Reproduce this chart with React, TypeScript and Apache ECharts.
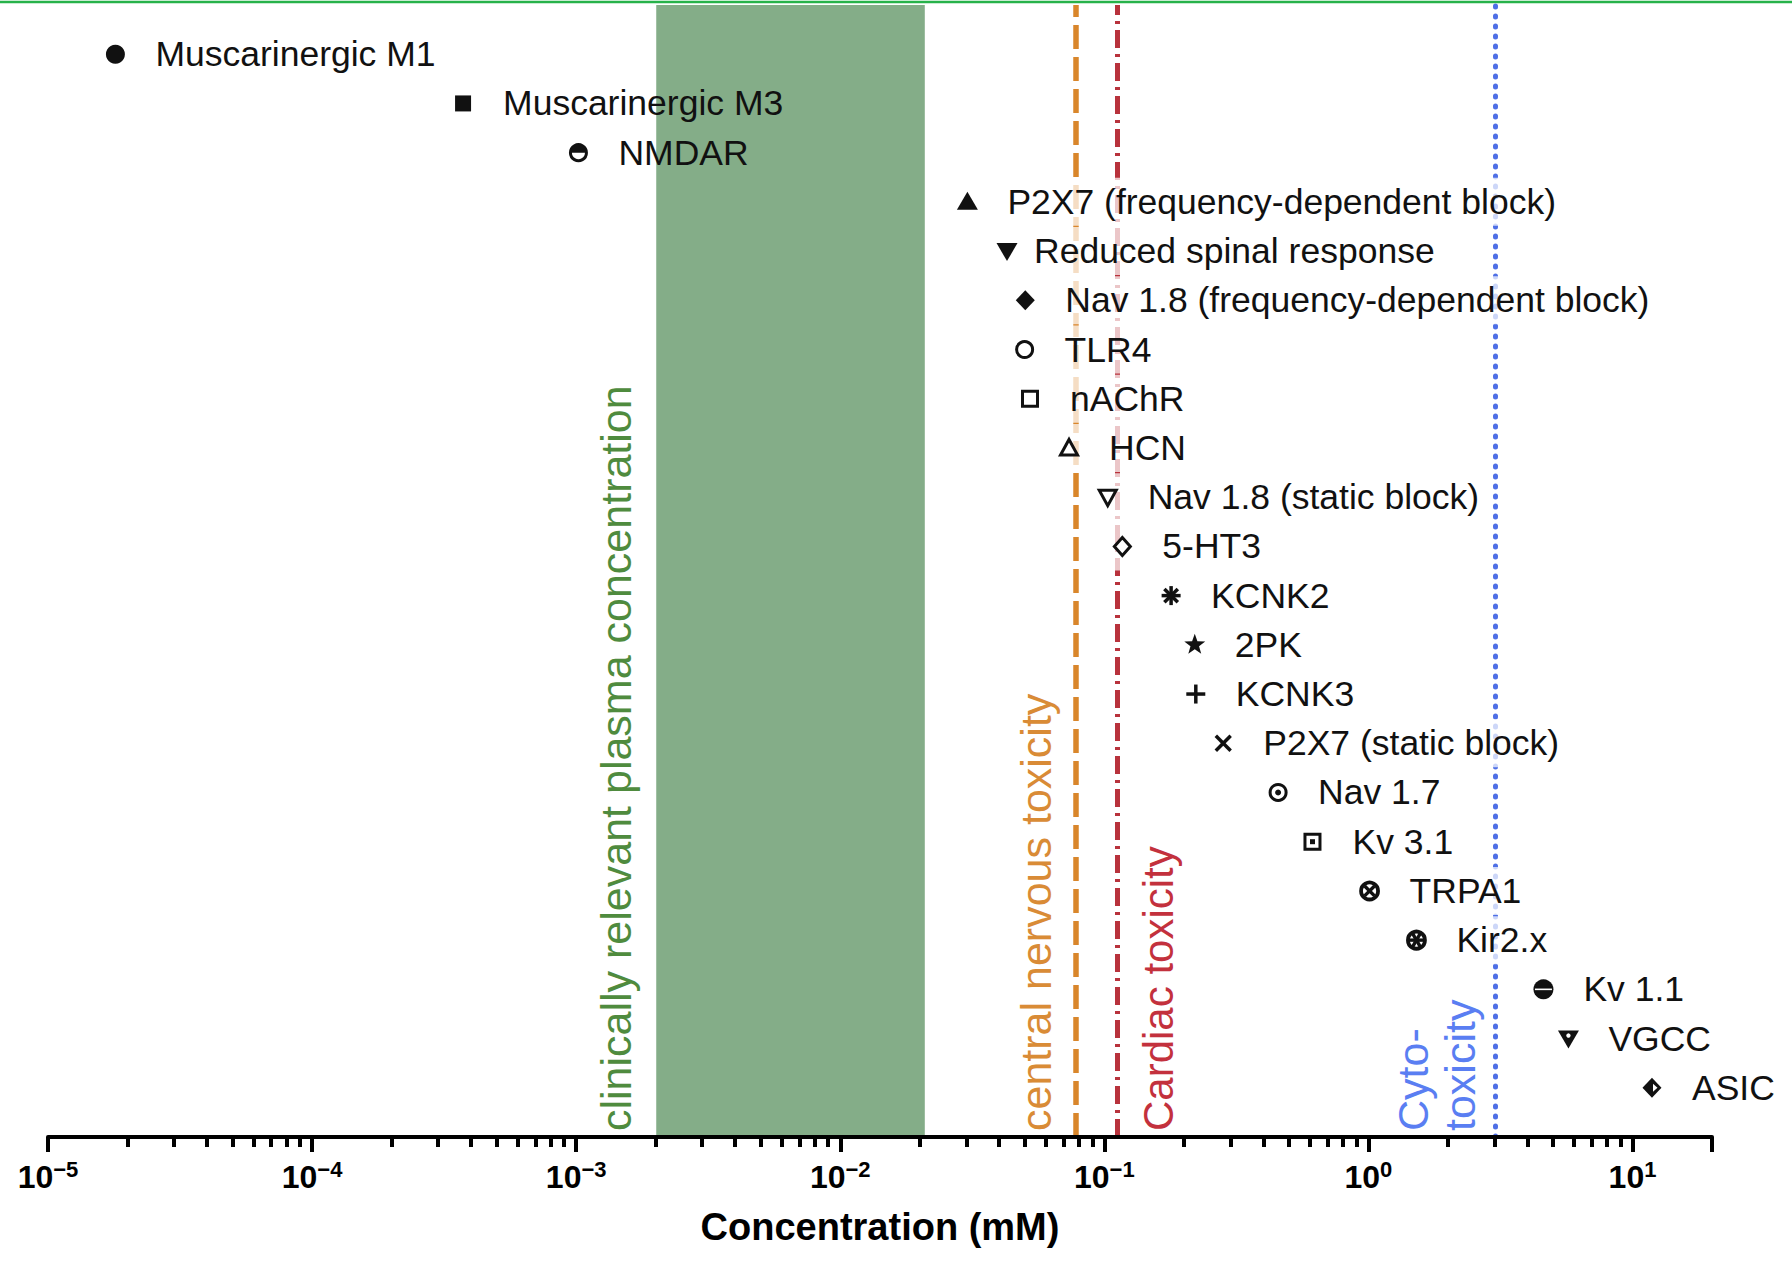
import React, { useEffect, useRef } from "react";
import * as echarts from "echarts";

// ---------- data ----------
const targets = [
  "Muscarinergic M1",
  "Muscarinergic M3",
  "NMDAR",
  "P2X7 (frequency-dependent block)",
  "Reduced spinal response",
  "Nav 1.8 (frequency-dependent block)",
  "TLR4",
  "nAChR",
  "HCN",
  "Nav 1.8 (static block)",
  "5-HT3",
  "KCNK2",
  "2PK",
  "KCNK3",
  "P2X7 (static block)",
  "Nav 1.7",
  "Kv 3.1",
  "TRPA1",
  "Kir2.x",
  "Kv 1.1",
  "VGCC",
  "ASIC",
];
// half-maximal concentrations in mM
const concentrations = [
  1.8e-5, 3.73e-4, 1.02e-3, 0.0303, 0.0428, 0.0502, 0.0499, 0.0523, 0.0735,
  0.103, 0.117, 0.179, 0.22, 0.222, 0.282, 0.455, 0.614, 1.01, 1.52, 4.6, 5.72,
  11.85,
];
const plasmaRange = [0.00201, 0.0209];
const cnsToxicity = 0.0772;
const cardiacToxicity = 0.1127;
const cytotoxicity = 3.02;
const axisMinExp = -5;
const axisMaxValue = 20;
const decadeExps = [-5, -4, -3, -2, -1, 0, 1];
const minorMultipliers = [2, 3, 4, 5, 6, 7, 8, 9];

// ---------- styles ----------
const markerShapes = [
  "circle", "square", "halfCircle", "triUp", "triDown", "diamond",
  "circleOpen", "squareOpen", "triUpOpen", "triDownOpen", "diamondOpen",
  "asterisk", "star", "plus", "cross", "circleDot", "squareDot",
  "circleCross", "circleStar", "circleLine", "triDownDot", "diamondNotch",
];
const labelGaps = targets.map((t) => (t === "Reduced spinal response" ? 27 : 40));

const FONT = '"Liberation Sans", Arial, Helvetica, sans-serif';
const LABEL_SIZE = 35.5;
const INK = "#111";

const L = (v: number) => Math.log10(v);

let measureCtx: CanvasRenderingContext2D | null = null;
function textWidth(t: string): number {
  if (!measureCtx) measureCtx = document.createElement("canvas").getContext("2d");
  if (!measureCtx) return t.length * LABEL_SIZE * 0.5;
  measureCtx.font = `${LABEL_SIZE}px ${FONT}`;
  return measureCtx.measureText(t).width;
}

function markerEls(kind: string, x: number, y: number): any[] {
  const circle = (r: number, fill: string, stroke?: string, lw = 0, cx = x, cy = y) => ({
    type: "circle",
    shape: { cx, cy, r },
    style: { fill, stroke: stroke || null, lineWidth: lw },
  });
  const poly = (pts: number[][], fill: string, stroke?: string, lw = 0) => ({
    type: "polygon",
    shape: { points: pts },
    style: { fill, stroke: stroke || null, lineWidth: lw, lineJoin: "miter" },
  });
  const line = (x1: number, y1: number, x2: number, y2: number, lw: number, stroke = INK) => ({
    type: "line",
    shape: { x1, y1, x2, y2 },
    style: { stroke, lineWidth: lw },
  });
  const rect = (w: number, h: number, fill: string, stroke?: string, lw = 0) => ({
    type: "rect",
    shape: { x: x - w / 2, y: y - h / 2, width: w, height: h },
    style: { fill, stroke: stroke || null, lineWidth: lw },
  });
  const ray = (len: number, deg: number, lw: number, stroke = INK) => {
    const a = (deg * Math.PI) / 180;
    const dx = Math.cos(a) * len;
    const dy = Math.sin(a) * len;
    return line(x - dx, y - dy, x + dx, y + dy, lw, stroke);
  };
  switch (kind) {
    case "circle":
      return [circle(9.5, INK)];
    case "square":
      return [rect(16, 16, INK)];
    case "halfCircle":
      return [
        circle(8, "#fff", INK, 3),
        {
          type: "sector",
          shape: { cx: x, cy: y, r0: 0, r: 8, startAngle: Math.PI, endAngle: Math.PI * 2, clockwise: true },
          style: { fill: INK },
        },
      ];
    case "triUp":
      return [poly([[x, y - 10], [x + 10.5, y + 8], [x - 10.5, y + 8]], INK)];
    case "triDown":
      return [poly([[x - 10.5, y - 8], [x + 10.5, y - 8], [x, y + 10]], INK)];
    case "diamond":
      return [poly([[x, y - 10], [x + 9.5, y], [x, y + 10], [x - 9.5, y]], INK)];
    case "circleOpen":
      return [circle(8, "#fff", INK, 3)];
    case "squareOpen":
      return [rect(15, 15, "#fff", INK, 3)];
    case "triUpOpen":
      return [poly([[x, y - 8.5], [x + 8.5, y + 7], [x - 8.5, y + 7]], "#fff", INK, 3)];
    case "triDownOpen":
      return [poly([[x - 8.5, y - 7], [x + 8.5, y - 7], [x, y + 8.5]], "#fff", INK, 3)];
    case "diamondOpen":
      return [poly([[x, y - 9], [x + 8, y], [x, y + 9], [x - 8, y]], "#fff", INK, 3)];
    case "asterisk":
      return [ray(9.5, 0, 3.5), ray(9.5, 45, 3.5), ray(9.5, 90, 3.5), ray(9.5, 135, 3.5)];
    case "star": {
      const pts: number[][] = [];
      for (let k = 0; k < 10; k++) {
        const r = k % 2 === 0 ? 11 : 4.5;
        const a = -Math.PI / 2 + (k * Math.PI) / 5;
        pts.push([x + Math.cos(a) * r, y + Math.sin(a) * r]);
      }
      return [poly(pts, INK)];
    }
    case "plus":
      return [ray(9.5, 0, 3.5), ray(9.5, 90, 3.5)];
    case "cross":
      return [ray(10.5, 45, 3.5), ray(10.5, 135, 3.5)];
    case "circleDot":
      return [circle(8, "#fff", INK, 3), circle(3, INK)];
    case "squareDot":
      return [rect(15, 15, "#fff", INK, 3), rect(5, 5, INK)];
    case "circleCross":
      return [circle(8.5, "#fff", INK, 3.8), ray(7, 45, 3.4), ray(7, 135, 3.4)];
    case "circleStar":
      return [circle(8.5, "#fff", INK, 3.8), ray(7.5, 0, 3.4), ray(7.5, 60, 3.4), ray(7.5, 120, 3.4)];
    case "circleLine":
      return [circle(10, INK), ray(8.5, 0, 1.6, "#fff")];
    case "triDownDot":
      return [poly([[x - 10.5, y - 8], [x + 10.5, y - 8], [x, y + 10]], INK), circle(2.2, "#fff", undefined, 0, x, y - 3)];
    case "diamondNotch":
      return [
        poly([[x, y - 10], [x + 9.5, y], [x, y + 10], [x - 9.5, y]], INK),
        poly([[x + 1, y - 4], [x + 5.5, y], [x + 1, y + 4]], "#fff"),
      ];
    default:
      return [circle(9, INK)];
  }
}

const rows = targets.map((_, i) => targets.length - i);
const xMin = axisMinExp;
const xMax = L(axisMaxValue);
const minorTickLogs: number[] = [];
decadeExps.forEach((e) =>
  minorMultipliers.forEach((m) => {
    const v = m * Math.pow(10, e);
    if (v < axisMaxValue) minorTickLogs.push(L(v));
  })
);

const gridRect = { left: 48, right: 80, top: 5, bottom: 124 };
const pointData = concentrations.map((c, i) => [L(c), rows[i]]);

function buildOption(): any {
  return {
    animation: false,
    backgroundColor: "#ffffff",
    grid: [
      { ...gridRect, containLabel: false },
      { ...gridRect, containLabel: false },
    ],
    xAxis: [
      {
        type: "value",
        gridIndex: 0,
        min: xMin,
        max: xMax,
        position: "bottom",
        z: 20,
        splitLine: { show: false },
        axisLine: { show: true, onZero: false, lineStyle: { color: "#000", width: 4 } },
        axisTick: {
          show: true,
          length: 15,
          lineStyle: { color: "#000", width: 4 },
          customValues: [...decadeExps, xMax],
        },
        axisLabel: {
          customValues: decadeExps,
          margin: 21,
          formatter: (v: number) => {
            const e = Math.round(v);
            const s = e < 0 ? "\u2212" + -e : String(e);
            return `{b|10}{s|${s}}`;
          },
          rich: {
            b: { fontSize: 32, fontWeight: "bold", fontFamily: FONT, color: "#000", verticalAlign: "bottom" },
            s: {
              fontSize: 22,
              fontWeight: "bold",
              fontFamily: FONT,
              color: "#000",
              verticalAlign: "bottom",
              padding: [0, 0, 13, 0],
            },
          },
        },
        name: "Concentration (mM)",
        nameLocation: "middle",
        nameGap: 71,
        nameTextStyle: { fontSize: 38, fontWeight: "bold", fontFamily: FONT, color: "#000" },
      },
      {
        type: "value",
        gridIndex: 1,
        min: xMin,
        max: xMax,
        position: "bottom",
        z: 20,
        splitLine: { show: false },
        axisLine: { show: false, onZero: false },
        axisTick: {
          show: true,
          length: 10,
          lineStyle: { color: "#000", width: 4 },
          customValues: minorTickLogs,
        },
        axisLabel: { show: false },
      },
    ],
    yAxis: [
      { type: "value", gridIndex: 0, min: 0, max: 23, show: false },
      { type: "value", gridIndex: 1, min: 0, max: 23, show: false },
    ],
    series: [
      {
        // toxicity threshold lines
        type: "line",
        xAxisIndex: 0,
        yAxisIndex: 0,
        data: [],
        z: 1,
        silent: true,
        markLine: {
          silent: true,
          z: 1,
          symbol: ["none", "none"],
          label: { show: false },
          data: [
            { xAxis: L(cnsToxicity), lineStyle: { color: "#d9862b", width: 5.5, type: [24, 8] } },
            { xAxis: L(cardiacToxicity), lineStyle: { color: "#b8323c", width: 5, type: [18, 6, 3, 6] } },
            { xAxis: L(cytotoxicity), lineStyle: { color: "#4e6fe6", width: 5, type: [1, 9], cap: "round" } },
          ],
        },
      },
      {
        // translucent label backdrops (fade the threshold lines under labels)
        type: "custom",
        xAxisIndex: 0,
        yAxisIndex: 0,
        z: 2,
        silent: true,
        clip: false,
        data: pointData,
        renderItem: (params: any, api: any) => {
          const i = params.dataIndex;
          const p = api.coord([api.value(0), api.value(1)]);
          const w = labelGaps[i] + textWidth(targets[i]) + 16 + 10;
          return {
            type: "rect",
            shape: { x: p[0] - 16, y: p[1] - 24, width: w, height: 48 },
            style: { fill: "rgba(255,255,255,0.72)" },
          };
        },
      },
      {
        // clinically relevant plasma concentration band
        type: "line",
        xAxisIndex: 0,
        yAxisIndex: 0,
        data: [],
        z: 3,
        silent: true,
        markArea: {
          silent: true,
          z: 3,
          itemStyle: { color: "#84ad88" },
          label: { show: false },
          data: [[{ xAxis: L(plasmaRange[0]) }, { xAxis: L(plasmaRange[1]) }]],
        },
      },
      {
        type: "custom",
        xAxisIndex: 0,
        yAxisIndex: 0,
        z: 10,
        clip: false,
        data: pointData,
        renderItem: (params: any, api: any) => {
          const i = params.dataIndex;
          const p = api.coord([api.value(0), api.value(1)]);
          const children = markerEls(markerShapes[i], p[0], p[1]);
          children.push({
            type: "text",
            x: p[0] + labelGaps[i],
            y: p[1],
            style: {
              text: targets[i],
              fill: INK,
              fontSize: LABEL_SIZE,
              fontFamily: FONT,
              align: "left",
              verticalAlign: "middle",
            },
          });
          return { type: "group", children };
        },
      },
    ],
  };
}

export default function App() {
  const ref = useRef<HTMLDivElement>(null);
  useEffect(() => {
    document.body.style.margin = "0";
    if (!ref.current) return;
    const chart = echarts.init(ref.current, null, { renderer: "svg" });
    chart.setOption(buildOption());

    const px = (v: number) => chart.convertToPixel({ gridIndex: 0 }, [L(v), 0]) as number[];
    const base = px(plasmaRange[0]);
    const yStart = base[1] - 6;
    const vText = (text: string, x: number, color: string, size = 43) => ({
      type: "text",
      x,
      y: yStart,
      rotation: Math.PI / 2,
      z: 5,
      style: { text, fill: color, fontSize: size, fontFamily: FONT, align: "left", verticalAlign: "middle" },
    });
    chart.setOption({
      graphic: [
        {
          type: "line",
          shape: { x1: 0, y1: 2, x2: 1792, y2: 2 },
          style: { stroke: "#27b24a", lineWidth: 2.5 },
        },
        vText("clinically relevant plasma concentration", base[0] - 40, "#4f8b3e"),
        vText("central nervous toxicity", px(cnsToxicity)[0] - 39, "#d98b36"),
        vText("Cardiac toxicity", px(cardiacToxicity)[0] + 40, "#c3313d", 42),
        vText("Cyto-", px(cytotoxicity)[0] - 82, "#5a7ef2"),
        vText("toxicity", px(cytotoxicity)[0] - 35, "#5a7ef2"),
      ],
    });
    return () => chart.dispose();
  }, []);
  return <div ref={ref} style={{ width: 1792, height: 1261 }} />;
}
